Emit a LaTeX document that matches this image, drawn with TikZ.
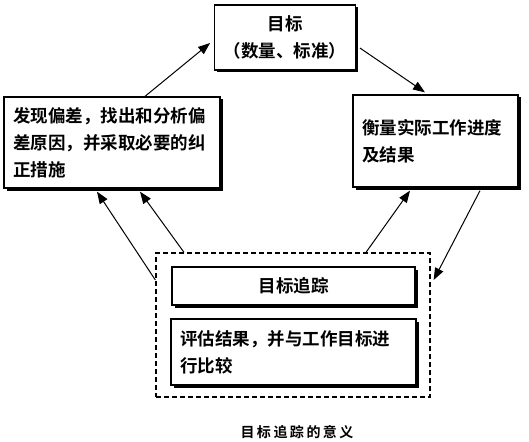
\documentclass[tikz,border=0pt]{standalone}
\usepackage{fontspec}
\newfontfamily\cjk[BoldFont={Noto Sans CJK SC Bold}]{Noto Sans CJK SC}
\usetikzlibrary{arrows.meta,shadows}

\tikzset{
  kasten/.style={draw, line width=1.3pt, fill=white,
    drop shadow={shadow xshift=2.5pt, shadow yshift=-2.5pt, opacity=1, fill=black},
    font=\cjk\bfseries\fontsize{17.5}{27}\selectfont, inner xsep=9pt},
  gruppe/.style={draw, dashed, line width=1.3pt, dash pattern=on 5pt off 3pt},
  pfeil/.style={->, line width=1pt}
}

\begin{document}
\begin{tikzpicture}[x=1pt, y=-1pt, >={Triangle[length=12pt,width=9pt]}]
\useasboundingbox (0,0) rectangle (529,441);
% Knoten
\node[kasten, minimum width=134pt, minimum height=65pt, align=center] (ziel) at (285,37.5)
  {目标\\（数量、标准）};

\node[kasten, minimum width=214pt, minimum height=91pt, text width=198pt, align=left] (abw) at (112,142.5)
  {发现偏差，找出和分析偏\\差原因，并采取必要的纠\\正措施};

\node[kasten, minimum width=163pt, minimum height=92pt, text width=147pt, align=left] (mess) at (435.5,141)
  {衡量实际工作进度\\及结果};

\node[gruppe, minimum width=274pt, minimum height=144pt] (grp) at (293,325) {};

\node[kasten, minimum width=243pt, minimum height=38pt, align=center] (track) at (293.5,286)
  {目标追踪};

\node[kasten, minimum width=243pt, minimum height=66pt, text width=227pt, align=left] (bew) at (293.5,352)
  {评估结果，并与工作目标进\\行比较};

\node[font=\cjk\bfseries\fontsize{14}{16}\selectfont] (titel) at (297,432)
  {目\kern2.5pt 标\kern2.5pt 追\kern2.5pt 踪\kern2.5pt 的\kern2.5pt 意\kern2.5pt 义};

% Pfeile oben
\draw[pfeil] ([xshift=33pt]abw.north) -- ([xshift=-4pt,yshift=-5.5pt]ziel.west);
\draw[pfeil] ([xshift=4pt,yshift=-10.5pt]ziel.east) -- ([xshift=-10.5pt,yshift=2pt]mess.north);

% Pfeile rechts
\draw[pfeil] ([xshift=44.5pt,yshift=-3pt]mess.south) -- ([xshift=3pt,yshift=45pt]grp.east);
\draw[pfeil] ([xshift=73pt]grp.north) -- ([xshift=-25.5pt,yshift=-3pt]mess.south);

% Pfeile links
\draw[pfeil] ([yshift=45pt]grp.west) -- ([xshift=-15pt,yshift=-3pt]abw.south);
\draw[pfeil] ([xshift=-109pt]grp.north) -- ([xshift=28pt,yshift=-3pt]abw.south);

\end{tikzpicture}
\end{document}
